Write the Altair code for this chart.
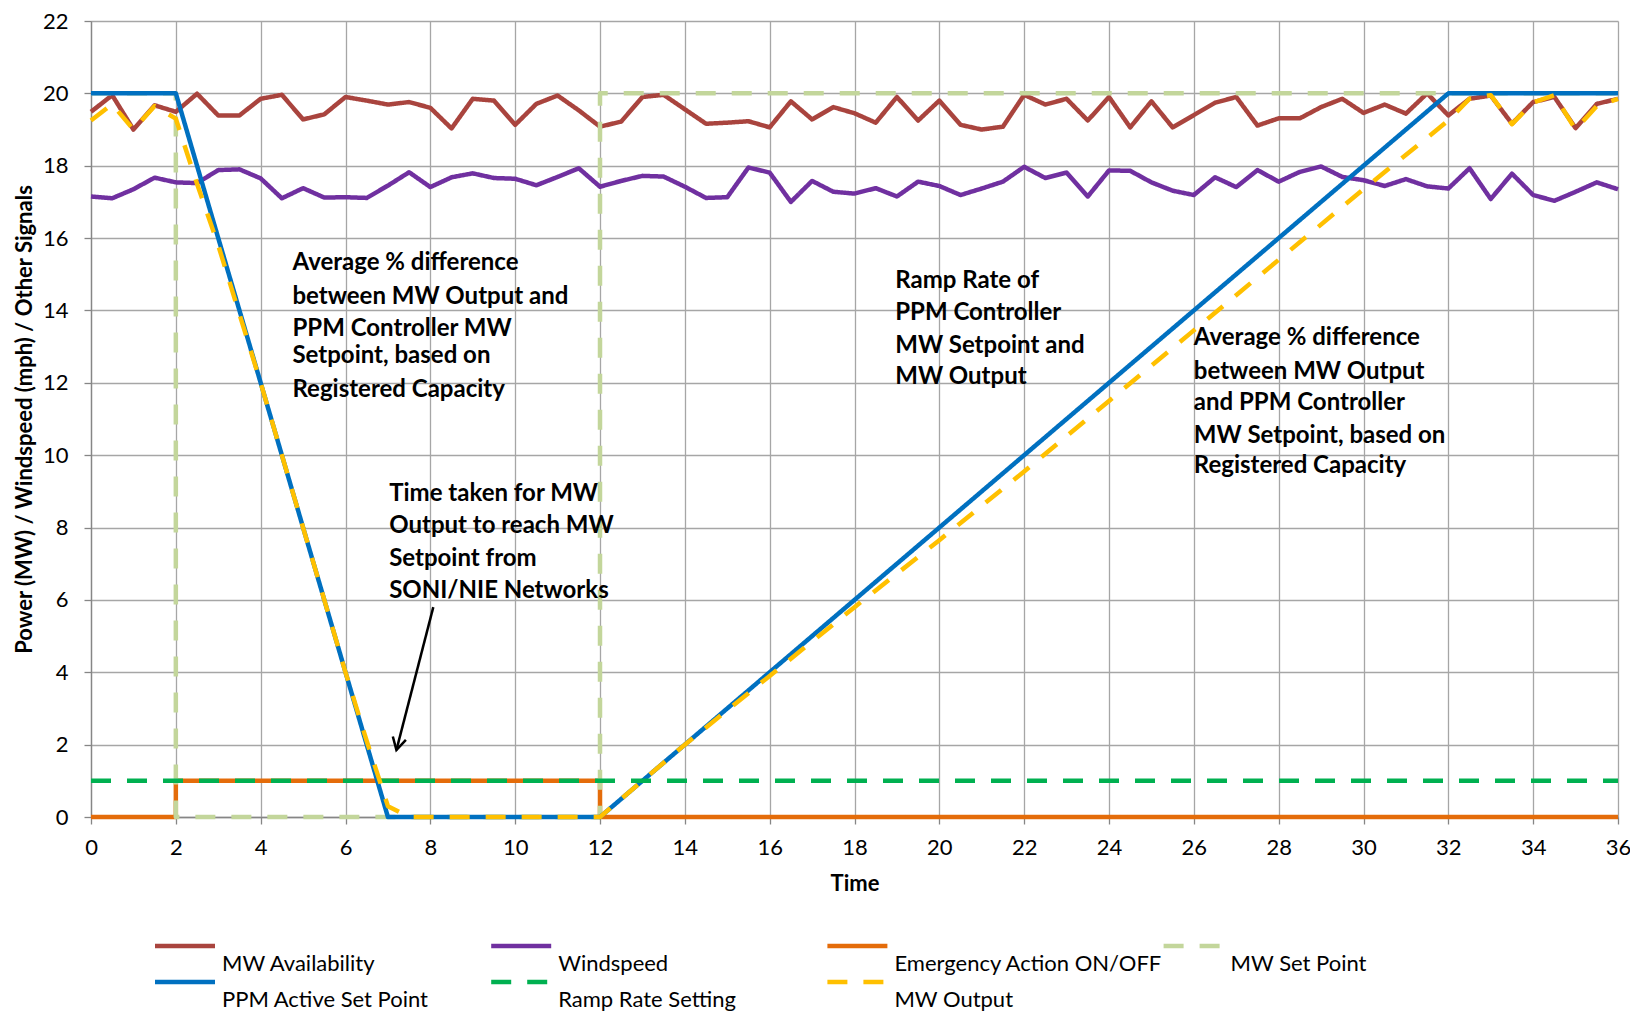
import altair as alt
import pandas as pd

# ---------------- data ----------------
NAMES = ["MW Availability", "Windspeed", "Emergency Action ON/OFF", "MW Set Point",
         "PPM Active Set Point", "Ramp Rate Setting", "MW Output"]
COLORS = ["#A9443E", "#7030A0", "#E46C0A", "#C3D69B", "#0070C0", "#00B050", "#FFC000"]
DASHES = [[1, 0], [1, 0], [1, 0], [20, 16], [1, 0], [20, 16], [20, 16]]

TIME = [i * 0.5 for i in range(73)]
MW_AVAIL = [19.49, 19.95, 19.0, 19.67, 19.49, 19.99, 19.39, 19.39, 19.85, 19.96,
            19.28, 19.42, 19.9, 19.8, 19.69, 19.76, 19.6, 19.03, 19.85, 19.8,
            19.13, 19.71, 19.94, 19.53, 19.08, 19.22, 19.9, 19.96, 19.56, 19.16,
            19.19, 19.23, 19.06, 19.78, 19.28, 19.62, 19.45, 19.19, 19.9, 19.25,
            19.8, 19.13, 19.0, 19.08, 19.96, 19.69, 19.85, 19.25, 19.9, 19.06,
            19.78, 19.06, 19.4, 19.74, 19.9, 19.11, 19.31, 19.31, 19.62, 19.85,
            19.46, 19.69, 19.44, 20.0, 19.39, 19.85, 19.94, 19.16, 19.76, 19.9,
            19.04, 19.71, 19.85]
WINDSPEED = [17.15, 17.1, 17.35, 17.67, 17.54, 17.52, 17.88, 17.9, 17.65, 17.1,
             17.38, 17.12, 17.13, 17.11, 17.45, 17.82, 17.41, 17.68, 17.79, 17.66,
             17.64, 17.46, 17.69, 17.93, 17.42, 17.58, 17.72, 17.7, 17.42, 17.11,
             17.13, 17.95, 17.81, 17.0, 17.58, 17.28, 17.23, 17.38, 17.15, 17.56,
             17.44, 17.19, 17.37, 17.56, 17.97, 17.66, 17.81, 17.15, 17.87, 17.86,
             17.54, 17.31, 17.19, 17.68, 17.41, 17.88, 17.56, 17.83, 17.98, 17.69,
             17.6, 17.44, 17.63, 17.43, 17.37, 17.93, 17.08, 17.78, 17.19, 17.03,
             17.28, 17.54, 17.35]
EMERG_T = [0, 2, 2, 12, 12, 36]
EMERG_V = [0, 0, 1, 1, 0, 0]
SETPT_T = [0, 2, 2, 12, 12, 36]
SETPT_V = [20, 20, 0, 0, 20, 20]
PPM_T = [0, 2, 7, 12, 32, 36]
PPM_V = [20, 20, 0, 0, 20, 20]
RAMP_T = [0, 36]
RAMP_V = [1, 1]
OUT_T = [0, 0.5, 1, 1.5, 2, 2.5, 3, 3.5, 4, 4.5, 5, 5.5, 6, 6.5, 7, 7.5,
         12, 14, 16, 18, 20, 22, 24, 26, 28, 30, 32,
         32.5, 33, 33.5, 34, 34.5, 35, 35.5, 36]
OUT_V = [19.25, 19.7, 19.0, 19.65, 19.3, 17.5, 15.8, 13.9, 12.0, 10.0, 8.0, 6.0, 4.0, 2.1, 0.3, 0.0,
         0.0, 2.0, 3.9, 5.8, 7.65, 9.55, 11.5, 13.45, 15.4, 17.35, 19.25,
         19.85, 19.95, 19.15, 19.75, 19.95, 19.0, 19.65, 19.85]

ANN_TEXT = ["Average % difference", "between MW Output and", "PPM Controller MW",
            "Setpoint, based on", "Registered Capacity",
            "Time taken for MW", "Output to reach MW", "Setpoint from", "SONI/NIE Networks",
            "Ramp Rate of", "PPM Controller", "MW Setpoint and", "MW Output",
            "Average % difference", "between MW Output", "and PPM Controller",
            "MW Setpoint, based on", "Registered Capacity"]
ANN_T = [4.75] * 5 + [7.03] * 4 + [18.96] * 4 + [26.0] * 5
ANN_V = [15.30, 14.37, 13.50, 12.74, 11.79,
         8.92, 8.03, 7.13, 6.26,
         14.81, 13.92, 13.02, 12.16,
         13.23, 12.31, 11.45, 10.53, 9.69]

ARROW_T = [8.07, 7.2]
ARROW_V = [5.8, 1.85]

LEG_COL = [0, 1, 2, 3, 0, 1, 2]
LEG_ROW = [0, 0, 0, 0, 1, 1, 1]

# ---------------- layout / style ----------------
W, H = 1527, 796
FONT = "Lato"
GRID = "#A6A6A6"
AXC = "#868686"

x_axis = alt.Axis(values=list(range(0, 37, 2)), title="Time", grid=True, gridColor=GRID,
                  gridWidth=1.3, domainColor=AXC, domainWidth=1.3, tickColor=AXC, tickSize=7,
                  tickWidth=1.3, labelFont=FONT, labelFontSize=22, labelColor="black",
                  labelPadding=13, titleFont=FONT, titleFontSize=22, titleFontWeight="bold",
                  titleColor="black", titlePadding=15, labelFlush=False, labelOverlap=False)
y_axis = alt.Axis(values=list(range(0, 23, 2)), title="Power (MW) / Windspeed (mph) / Other Signals",
                  grid=True, gridColor=GRID, gridWidth=1.3, domainColor=AXC, domainWidth=1.3,
                  tickColor=AXC, tickSize=7, tickWidth=1.3, labelFont=FONT, labelFontSize=22,
                  labelColor="black", labelPadding=16, titleFont=FONT, titleFontSize=22,
                  titleFontWeight="bold", titleColor="black", titlePadding=6,
                  labelFlush=False, labelOverlap=False)

X = alt.X("t:Q", scale=alt.Scale(domain=[0, 36], nice=False, zero=False), axis=x_axis)
Y = alt.Y("v:Q", scale=alt.Scale(domain=[0, 22], nice=False, zero=False), axis=y_axis)
COLOR = alt.Color("name:N", scale=alt.Scale(domain=NAMES, range=COLORS), legend=None)
DASH = alt.StrokeDash("name:N", scale=alt.Scale(domain=NAMES, range=DASHES), legend=None)


def series(name, ts, vs):
    df = pd.DataFrame({"t": ts, "v": vs, "name": name, "i": list(range(len(ts)))})
    return alt.Chart(df).mark_line(strokeWidth=4.5, strokeCap="butt", strokeJoin="round").encode(
        x=X, y=Y, color=COLOR, strokeDash=DASH, order="i:Q")


layers = [
    series(NAMES[0], TIME, MW_AVAIL),
    series(NAMES[1], TIME, WINDSPEED),
    series(NAMES[2], EMERG_T, EMERG_V),
    series(NAMES[3], SETPT_T, SETPT_V),
    series(NAMES[4], PPM_T, PPM_V),
    series(NAMES[5], RAMP_T, RAMP_V),
    series(NAMES[6], OUT_T, OUT_V),
]

ann_df = pd.DataFrame({"t": ANN_T, "v": ANN_V, "label": ANN_TEXT})
ann = alt.Chart(ann_df).mark_text(align="left", baseline="middle", font=FONT, fontSize=24,
                                   fontWeight="bold", color="black").encode(x=X, y=Y, text="label:N")

arrow_df = pd.DataFrame({"t": ARROW_T, "v": ARROW_V})
arrow_line = alt.Chart(arrow_df).mark_line(color="black", strokeWidth=2.5).encode(x=X, y=Y)
arrow_head = alt.Chart(arrow_df.iloc[[1]]).mark_point(
    shape="M-0.55,-1L0,0L0.55,-1", size=600, filled=False, color="black",
    strokeWidth=2.5, angle=14, opacity=1).encode(x=X, y=Y)

main = alt.layer(*layers, ann, arrow_line, arrow_head)

leg = pd.DataFrame({"name": NAMES, "col": LEG_COL, "row": LEG_ROW})
leg["x0"] = 64 + 336.2 * leg["col"]
leg["x1"] = leg["x0"] + 60
leg["xt"] = leg["x0"] + 67
LX_SCALE = alt.Scale(domain=[0, W], nice=False, zero=False)
LY = alt.Y("row:Q", scale=alt.Scale(domain=[0, 1], range=[925, 961], nice=False, zero=False), axis=None)
leg_rules = alt.Chart(leg).mark_rule(strokeWidth=4.5, strokeCap="butt").encode(
    x=alt.X("x0:Q", scale=LX_SCALE, axis=None), x2="x1:Q", y=LY, color=COLOR, strokeDash=DASH)
leg_text = alt.Chart(leg).mark_text(align="left", baseline="middle", dy=18, font=FONT,
                                    fontSize=22, color="black").encode(
    x=alt.X("xt:Q", scale=LX_SCALE, axis=None), y=LY, text="name:N")
legend = alt.layer(leg_rules, leg_text)

chart = alt.layer(main, legend).resolve_scale(x="independent", y="independent").properties(
    width=W, height=H,
    padding={"left": 83, "top": 13, "right": 12, "bottom": 195},
    autosize=alt.AutoSizeParams(type="none"),
    background="white",
).configure_view(stroke=None)

chart.save("out.html", embed_options={"renderer": "svg", "actions": False})
